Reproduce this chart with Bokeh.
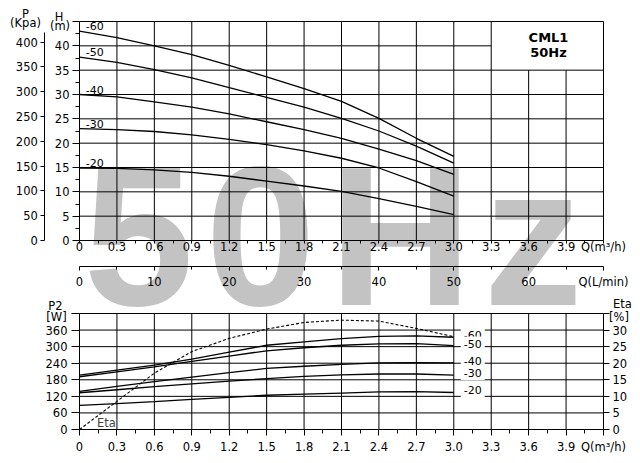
from bokeh.plotting import figure
from bokeh.models import Range1d, LinearAxis, FixedTicker, Label
from bokeh.embed import file_html
from bokeh.resources import INLINE

# ---------------- data ----------------
Q = [0.0, 0.3, 0.6, 0.9, 1.2, 1.5, 1.8, 2.1, 2.4, 2.7, 3.0]

H_60 = [43.0, 41.7, 40.0, 38.2, 36.0, 33.6, 31.2, 28.6, 25.1, 21.0, 17.3]
H_50 = [37.7, 36.6, 35.1, 33.4, 31.4, 29.4, 27.4, 25.1, 22.5, 19.4, 15.9]
H_40 = [30.0, 29.5, 28.5, 27.4, 26.0, 24.4, 22.8, 21.0, 18.8, 16.4, 13.6]
H_30 = [23.0, 22.8, 22.4, 21.7, 20.8, 19.7, 18.4, 16.9, 14.9, 12.1, 9.1]
H_20 = [14.9, 14.8, 14.5, 14.0, 13.2, 12.2, 11.2, 10.1, 8.6, 7.0, 5.3]

P2_60 = [197, 215, 233, 255, 280, 305, 317, 329, 337, 339, 334]
P2_50 = [191, 209, 227, 247, 266, 285, 296, 305, 310, 311, 304]
P2_40 = [138, 156, 173, 190, 206, 221, 229, 236, 241, 242, 241]
P2_30 = [133, 144, 155, 165, 175, 184, 192, 198, 201, 201, 197]
P2_20 = [87, 94, 101, 109, 116, 124, 128, 132, 136, 137, 134]

ETA = [0.0, 8.5, 17.0, 23.5, 27.5, 30.3, 32.3, 33.0, 32.7, 30.5, 28.0]

SPEEDS = ["-60", "-50", "-40", "-30", "-20"]
H_SERIES = [H_60, H_50, H_40, H_30, H_20]
P2_SERIES = [P2_60, P2_50, P2_40, P2_30, P2_20]

Q_TICKS = [0, 0.3, 0.6, 0.9, 1.2, 1.5, 1.8, 2.1, 2.4, 2.7, 3.0, 3.3, 3.6, 3.9, 4.2]
Q_LABELS = ["0", "0.3", "0.6", "0.9", "1.2", "1.5", "1.8", "2.1", "2.4", "2.7",
            "3.0", "3.3", "3.6", "3.9", "Q(m³/h)"]
Q_MINOR = [0.15, 0.45, 0.75, 1.05, 1.35, 1.65, 1.95, 2.25, 2.55, 2.85, 3.15, 3.45, 3.75, 4.05]
LMIN_TICKS = [0, 10, 20, 30, 40, 50, 60, 70]
LMIN_LABELS = ["0", "10", "20", "30", "40", "50", "60", "Q(L/min)"]
LMIN_MINOR = [5, 15, 25, 35, 45, 55, 65]
H_TICKS = [0, 5, 10, 15, 20, 25, 30, 35, 40, 45]
H_LABELS = ["0", "5", "10", "15", "20", "25", "30", "35", "40", ""]
H_MINOR = [2.5, 7.5, 12.5, 17.5, 22.5, 27.5, 32.5, 37.5, 42.5]
P_TICKS = [0, 50, 100, 150, 200, 250, 300, 350, 400]
P2_TICKS = [0, 60, 120, 180, 240, 300, 360, 420]
P2_LABELS = ["0", "60", "120", "180", "240", "300", "360", ""]
ETA_TICKS = [0, 5, 10, 15, 20, 25, 30, 35]
ETA_LABELS = ["0", "5", "10", "15", "20", "25", "30", ""]

MODEL = "CML1"
FREQ = "50Hz"
WATERMARK = ["5", "0", "H", "z"]

# ---------------- layout constants (canvas pixels) ----------------
Q_MAX, H_MAX, W_MAX, ETA_MAX = 4.2, 45, 420, 35
KPA_MAX = 420
KPA_PER_M = 9.81
W_PER_PCT = W_MAX / ETA_MAX
LMIN_PER_M3H = 1000 / 60
BOX_LEFT, BOX_BOTTOM = 3.3, 35          # model box in the top-right corner
CW, CH = 640, 463
FL, FR = 79, 603
T_FT, T_FB = 21, 240                    # head chart, top / bottom
B_FT, B_FB = 313, 429                   # power chart, top / bottom
SX = (FR - FL) / Q_MAX
SYT = (T_FB - T_FT) / H_MAX
SYB = (B_FB - B_FT) / W_MAX

FONT = "DejaVu Sans"
TICK_FS = "11.5px"
GRAY = "#c3c3c3"
WM_X = [83, 205, 328.5, 483]
WM_MID = 236


def qx(px):
    return (px - FL) / SX


def hy(py):
    return (T_FB - py) / SYT


def wy(py):
    return (B_FB - py) / SYB


def style_axis(ax, tick_out, minor_out, standoff):
    ax.axis_line_color = "black"
    ax.axis_line_width = 1
    ax.major_tick_line_color = "black"
    ax.major_tick_in = 0
    ax.major_tick_out = tick_out
    if minor_out:
        ax.minor_tick_line_color = "black"
        ax.minor_tick_in = 0
        ax.minor_tick_out = minor_out
    else:
        ax.minor_tick_line_color = None
    ax.major_label_standoff = standoff
    ax.major_label_text_font = FONT
    ax.major_label_text_font_size = TICK_FS
    ax.major_label_text_color = "black"


def txt(x, y, text, size="11.5px", bold=False, color="black", align="center",
        baseline="middle", **kw):
    lab = Label(x=x, y=y, text=text, text_font=FONT, text_font_size=size,
                text_font_style="bold" if bold else "normal", text_color=color,
                text_align=align, text_baseline=baseline, **kw)
    p.add_layout(lab)
    return lab


# one canvas; the frame fills it and every axis is pinned inside it
p = figure(width=CW, height=CH, x_range=Range1d(qx(0), qx(CW)), y_range=Range1d(hy(CH), hy(0)),
           output_backend="svg", toolbar_location=None,
           min_border_left=0, min_border_right=0, min_border_top=0, min_border_bottom=0,
           x_axis_type=None, y_axis_type=None)
p.background_fill_color = "white"
p.border_fill_color = "white"
p.outline_line_color = None
p.grid.visible = False
p.extra_y_ranges = {
    "kpa": Range1d(hy(CH) * KPA_PER_M, hy(0) * KPA_PER_M),
    "w": Range1d(wy(CH), wy(0)),
    "eta": Range1d(wy(CH) / W_PER_PCT, wy(0) / W_PER_PCT),
}
p.extra_x_ranges = {"lmin": Range1d(qx(0) * LMIN_PER_M3H, qx(CW) * LMIN_PER_M3H)}

# watermark, behind everything
for ch, px in zip(WATERMARK, WM_X):
    p.add_layout(Label(x=qx(px), y=hy(WM_MID), text=ch, text_font="Liberation Sans",
                       text_font_style="bold", text_font_size="198px", text_color=GRAY,
                       text_align="left", text_baseline="middle", level="image"))

# ---- grids ----
vx = Q_TICKS[1:]
vtop = [BOX_BOTTOM if BOX_LEFT < q < Q_MAX else H_MAX for q in vx]
hys = H_TICKS[1:]
hright = [BOX_LEFT if BOX_BOTTOM < h < H_MAX else Q_MAX for h in hys]
p.segment(x0=vx, y0=[0] * len(vx), x1=vx, y1=vtop, line_color="black", line_width=1)
p.segment(x0=[0] * len(hys), y0=hys, x1=hright, y1=hys, line_color="black", line_width=1)
wys = P2_TICKS[1:]
p.segment(x0=vx, y0=[0] * len(vx), x1=vx, y1=[W_MAX] * len(vx), y_range_name="w",
          line_color="black", line_width=1)
p.segment(x0=[0] * len(wys), y0=wys, x1=[Q_MAX] * len(wys), y1=wys, y_range_name="w",
          line_color="black", line_width=1)

# ---- head chart axes ----
xa = LinearAxis(ticker=FixedTicker(ticks=Q_TICKS, minor_ticks=Q_MINOR), fixed_location=0,
                bounds=(0, Q_MAX))
xa.major_label_overrides = dict(zip(Q_TICKS, Q_LABELS))
style_axis(xa, 3, 3, -4)
p.add_layout(xa, "below")

la = LinearAxis(x_range_name="lmin", ticker=FixedTicker(ticks=LMIN_TICKS, minor_ticks=LMIN_MINOR),
                fixed_location=hy(266), bounds=(0, Q_MAX * LMIN_PER_M3H))
la.major_label_overrides = dict(zip(LMIN_TICKS, LMIN_LABELS))
style_axis(la, 4, 3, 4)
p.add_layout(la, "below")

ha = LinearAxis(ticker=FixedTicker(ticks=H_TICKS, minor_ticks=H_MINOR), fixed_location=0,
                bounds=(0, H_MAX))
ha.major_label_overrides = dict(zip(H_TICKS, H_LABELS))
style_axis(ha, 7, 4, 3)
p.add_layout(ha, "left")

pa = LinearAxis(y_range_name="kpa", ticker=FixedTicker(ticks=P_TICKS), fixed_location=qx(44.3),
                bounds=(0, KPA_MAX))
style_axis(pa, 4, 0, 3)
p.add_layout(pa, "left")

# ---- power chart axes ----
bx = LinearAxis(ticker=FixedTicker(ticks=Q_TICKS, minor_ticks=Q_MINOR), fixed_location=hy(B_FB),
                bounds=(0, Q_MAX))
bx.major_label_overrides = dict(zip(Q_TICKS, Q_LABELS))
style_axis(bx, 6, 4, 4)
p.add_layout(bx, "below")

wa = LinearAxis(y_range_name="w", ticker=FixedTicker(ticks=P2_TICKS), fixed_location=0,
                bounds=(0, W_MAX))
wa.major_label_overrides = dict(zip(P2_TICKS, P2_LABELS))
style_axis(wa, 8, 0, 4)
p.add_layout(wa, "left")

ea = LinearAxis(y_range_name="eta", ticker=FixedTicker(ticks=ETA_TICKS), fixed_location=Q_MAX,
                bounds=(0, ETA_MAX))
ea.major_label_overrides = dict(zip(ETA_TICKS, ETA_LABELS))
style_axis(ea, 6, 0, 3)
p.add_layout(ea, "right")

# ---- curves ----
for s in H_SERIES:
    p.line(Q, s, line_color="black", line_width=1.3)
for s in P2_SERIES:
    p.line(Q, s, y_range_name="w", line_color="black", line_width=1.3)
p.line(Q, ETA, y_range_name="eta", line_color="black", line_width=1.1, line_dash="3 2")

# ---- texts ----
txt(qx(548), hy(37), MODEL, size="13px", bold=True)
txt(qx(548), hy(51.7), FREQ, size="13px", bold=True)

for name, s in zip(SPEEDS, H_SERIES):
    txt(0.05, s[0], name, size="11px", align="left", y_offset=5)

for name, s in zip(SPEEDS, P2_SERIES):
    txt(Q[-1], s[-1], name, size="11px", align="left", x_offset=7, y_offset=2,
        y_range_name="w", background_fill_color="white", padding=3)

txt(qx(25), hy(13), "P")
txt(qx(25), hy(22), "(Kpa)")
txt(qx(58.5), hy(16.5), "H")
txt(qx(59.5), hy(25.7), "(m)")

txt(0.14, hy(422.5), "Eta", color="#444444", align="left")
txt(qx(55), hy(305), "P2")
txt(qx(56), hy(316.7), "[W]")
txt(qx(622), hy(303.7), "Eta")
txt(qx(618.5), hy(316.7), "[%]")

open("out.html", "w").write(file_html(p, INLINE))
